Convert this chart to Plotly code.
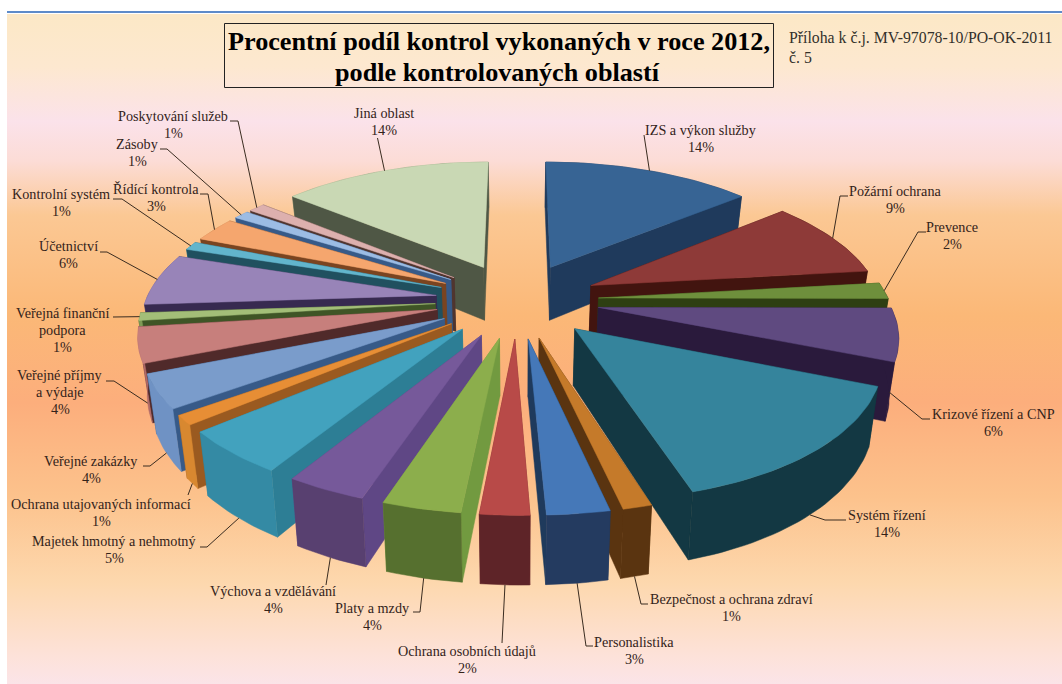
import math
import plotly.graph_objects as go

# Data (shares are a bit finer than the rounded labels)
categories = ["IZS a výkon služby", "Požární ochrana", "Prevence", "Krizové řízení a CNP", "Systém řízení",
              "Bezpečnost a ochrana zdraví", "Personalistika", "Ochrana osobních údajů", "Platy a mzdy",
              "Výchova a vzdělávání", "Majetek hmotný a nehmotný", "Ochrana utajovaných informací",
              "Veřejné zakázky", "Veřejné příjmy<br>a výdaje", "Veřejná finanční<br>podpora", "Účetnictví",
              "Kontrolní systém", "Řídící kontrola", "Zásoby", "Poskytování služeb", "Jiná oblast"]
shares = [13.9, 9.2, 1.9, 6.1, 14.2, 1.3, 2.8, 2.2, 3.5, 3.6, 5.0, 1.1, 3.9, 4.1, 0.9, 6.1, 1.0, 2.9, 1.0, 1.1, 13.9]
percents = [14, 9, 2, 6, 14, 1, 3, 2, 4, 4, 5, 1, 4, 4, 1, 6, 1, 3, 1, 1, 14]

top_colors = ["#376494", "#8E3A38", "#6E8F3C", "#5F4A80", "#35849C", "#C57A2A", "#4578B8",
              "#B84A48", "#8CAE4C", "#76599A", "#42A2BE", "#E78E35", "#7A9CCB", "#C77F7C",
              "#A3BE78", "#9884B8", "#62B5CC", "#F5A66E", "#9CBCE4", "#DDB0AE", "#C9D8B4"]
side_colors = ["#1F3A5C", "#42140F", "#2E3F12", "#2A1A3C", "#133843", "#5A3410", "#243B60",
               "#5E2428", "#56702F", "#584070", "#348AA4", "#D88830", "#6F92C4", "#B06A68",
               "#7F9A55", "#6F5C90", "#3F8CA3", "#C9824F", "#6F92C4", "#B08A88", "#8A9A76"]
wall_colors = ["#1F3A5C", "#42140F", "#2E3F12", "#2A1A3C", "#133843", "#5A3410", "#1F3A5C",
               "#7A2E30", "#729A40", "#5F4785", "#2D7E95", "#9A5A20", "#375A88", "#502A2A",
               "#3F5526", "#372A50", "#20505F", "#7A4420", "#375A88", "#50352F", "#4F5745"]

# Label centre (x, y of first line), leader elbows, and whether the leader ends at the base of the slice
label_pos = [(701, 130), (895, 191), (952, 227), (993, 414), (887, 515), (731, 599), (634, 642), (467, 651),
             (372, 608), (273, 591), (114, 541), (101, 504), (91, 461), (60, 375), (62, 313), (68, 246),
             (61, 194), (156, 189), (137, 144), (173, 116), (384, 113)]
leader_via = [[(644, 135)], [(848, 196), (840, 196)], [(926, 232), (918, 232)], [(930, 419), (922, 419)],
              [(846, 520), (825, 520)], [(648, 604), (641, 604)], [(593, 646), (586, 646)], [(502, 643)],
              [(413, 612), (420, 612)], [(326, 585)], [(200, 547), (207, 547)], [(188, 495)],
              [(143, 466), (150, 466)], [(106, 381), (114, 381)], [(113, 317), (127, 317)],
              [(100, 252), (107, 252)], [(113, 199), (122, 199)], [(200, 194), (208, 194)],
              [(160, 149), (167, 149)], [(230, 121), (238, 121)], [(377.5, 138)]]
leader_base = [False, False, False, True, True, True, True, True, True, True, True, True, True, True,
               False, False, False, False, False, False, False]

bg_stops = [(0.0, "#FCE8C6"), (0.08, "#FDE8D0"), (0.16, "#FBE2EA"), (0.22, "#FCDCD6"), (0.30, "#FBC894"),
            (0.45, "#FBB877"), (0.58, "#FCAE7C"), (0.72, "#FCC28C"), (0.85, "#FDD8AE"), (0.96, "#FDE2DA"),
            (1.0, "#FBE4E8")]

# Pie geometry, in pixels of the 1062x684 page
CX, CY = 517, 300
RX, RY = 372, 170
KP = 0.211        # perspective strength
SKEW = 5.5        # the front of the pie sits a little right of the back
EXPLODE = 0.22    # how far slices are pulled out
DEPTH = 55
BASE_SHRINK = 0.975


def project(x, y, base=False):
    s = 1 / (1 + KP * y)
    px = RX * x * s + SKEW * max(0, -y) * s
    py = -RY * y * s
    if base:
        px *= BASE_SHRINK
        py += DEPTH * s
    return CX + px, CY + py


def point(ang, bis, r, base=False):
    b = math.radians(bis)
    a = math.radians(ang)
    x = EXPLODE * math.sin(b) + r * math.sin(a)
    y = EXPLODE * math.cos(b) + r * math.cos(a)
    return project(x, y, base)


def poly(pts, color):
    xs = [p[0] for p in pts] + [pts[0][0]]
    ys = [p[1] for p in pts] + [pts[0][1]]
    return go.Scatter(x=xs, y=ys, mode="lines", fill="toself", fillcolor=color,
                      line=dict(color=color, width=0.5), hoverinfo="skip", showlegend=False)


fig = go.Figure()

# page background
fig.add_trace(go.Scatter(x=[7, 1062, 1062, 7, 7], y=[14, 14, 684, 684, 14], mode="lines", fill="toself",
                         fillgradient=dict(type="vertical", colorscale=bg_stops, start=14, stop=684),
                         line=dict(width=0), hoverinfo="skip", showlegend=False))

total = sum(shares)
R = 1 - EXPLODE
slices = []
start = 0
for i, v in enumerate(shares):
    end = start + v / total * 360
    slices.append((i, start, end, (start + end) / 2))
    start = end

for i, a0, a1, bis in sorted(slices, key=lambda s: -math.cos(math.radians(s[3]))):
    steps = max(3, int((a1 - a0) / 1.5))
    angs = [a0 + (a1 - a0) * k / steps for k in range(steps + 1)]
    arc_top = [point(a, bis, R) for a in angs]
    arc_base = [point(a, bis, R, True) for a in angs]
    tip_top = point(bis, bis, 0)
    tip_base = point(bis, bis, 0, True)
    wall0 = poly([tip_top, arc_top[0], arc_base[0], tip_base], wall_colors[i])
    wall1 = poly([tip_top, arc_top[-1], arc_base[-1], tip_base], wall_colors[i])
    side = poly(arc_top + arc_base[::-1], side_colors[i])
    top = poly([tip_top] + arc_top, top_colors[i])
    walls = [wall0, wall1] if bis < 180 else [wall1, wall0]
    back = math.cos(math.radians(bis)) > 0
    parts = [side] + walls + [top] if back else walls + [side, top]
    for p in parts:
        fig.add_trace(p)

# leaders and labels
LABEL_FONT = dict(family="Liberation Serif", size=14.2, color="#33231A")
annotations = []
for i, a0, a1, bis in slices:
    end = point(bis, bis, R, leader_base[i])
    pts = leader_via[i] + [end]
    fig.add_trace(go.Scatter(x=[p[0] for p in pts], y=[p[1] for p in pts], mode="lines",
                             line=dict(color="#3A2C20", width=1), hoverinfo="skip", showlegend=False))
    lx, ly = label_pos[i]
    lines = categories[i].split("<br>") + [f"{percents[i]}%"]
    for k, txt in enumerate(lines):
        annotations.append(dict(x=lx, y=ly + k * 16.8, text=txt, showarrow=False, font=LABEL_FONT,
                                xanchor="center", yanchor="middle"))

TITLE_FONT = dict(family="Liberation Serif", size=26.2, color="#000000")
annotations.append(dict(x=499, y=41, text="<b>Procentní podíl kontrol vykonaných v roce 2012,</b>", showarrow=False,
                        font=TITLE_FONT, xanchor="center", yanchor="middle"))
annotations.append(dict(x=497, y=72, text="<b>podle kontrolovaných oblastí</b>", showarrow=False,
                        font=TITLE_FONT, xanchor="center", yanchor="middle"))
NOTE_FONT = dict(family="Liberation Serif", size=15.8, color="#33302A")
annotations.append(dict(x=787, y=38, text="Příloha k č.j. MV-97078-10/PO-OK-2011", showarrow=False,
                        font=NOTE_FONT, xanchor="left", yanchor="middle"))
annotations.append(dict(x=787, y=57, text="č. 5", showarrow=False, font=NOTE_FONT,
                        xanchor="left", yanchor="middle"))

fig.update_layout(
    width=1062, height=684, autosize=False,
    margin=dict(l=0, r=0, t=0, b=0),
    paper_bgcolor="#FFFFFF", plot_bgcolor="#FFFFFF",
    xaxis=dict(range=[0, 1062], visible=False, fixedrange=True),
    yaxis=dict(range=[684, 0], visible=False, fixedrange=True),
    annotations=annotations,
    shapes=[
        dict(type="rect", x0=224.5, x1=773.5, y0=23.5, y1=87.5, line=dict(color="#222222", width=1)),
        dict(type="line", x0=7, x1=1062, y0=12, y1=12, line=dict(color="#5E8BC9", width=2)),
    ],
)

# the browser's default body margin would push the page off by 8 pixels
fig.write_html("out.html", config=dict(displayModeBar=False),
               post_script="document.body.style.margin='0';document.documentElement.style.overflow='hidden';")
